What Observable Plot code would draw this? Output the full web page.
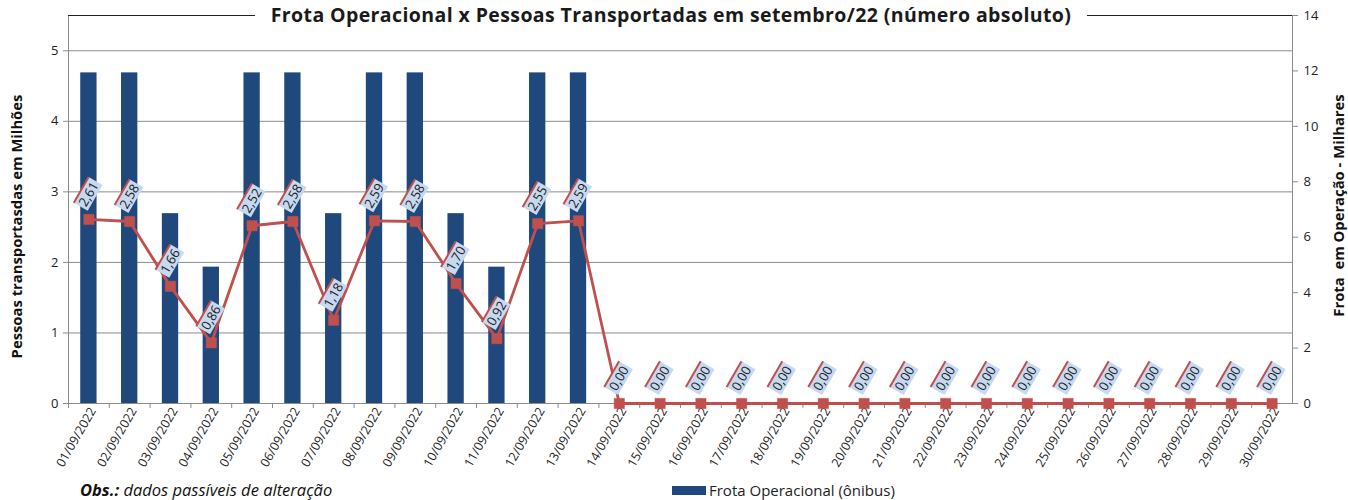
<!DOCTYPE html>
<html><head><meta charset="utf-8">
<script src="https://cdn.jsdelivr.net/npm/d3@7"></script>
<script src="https://cdn.jsdelivr.net/npm/@observablehq/plot@0.6"></script>
<style>
body{margin:0;background:#fff;font-family:"Open Sans", Lato, sans-serif;}
#wrap{position:relative;width:1348px;height:500px;overflow:hidden;background:#fff;}
#title{position:absolute;top:3px;left:0;width:1342px;text-align:center;line-height:24px;}
#title span{background:#fff;padding:0 16px;font-weight:bold;font-size:19.5px;letter-spacing:0.4px;color:#1a1a1a;}
#obs{position:absolute;left:80px;top:480px;font-size:16.5px;line-height:19px;font-style:italic;color:#111;}
#legend{position:absolute;left:672px;top:481px;font-size:15px;line-height:18px;color:#222;display:flex;align-items:center;}
#legend i{display:inline-block;width:34px;height:9px;background:#1f497d;margin-right:3px;}
</style></head><body>
<div id="wrap">
<div id="chart"></div>
<div id="title"><span>Frota Operacional x Pessoas Transportadas em setembro/22 (número absoluto)</span></div>
<div id="obs"><b>Obs.:</b> dados passíveis de alteração</div>
<div id="legend"><i></i>Frota Operacional (ônibus)</div>
</div>
<script>
const dates = ["01/09/2022","02/09/2022","03/09/2022","04/09/2022","05/09/2022","06/09/2022","07/09/2022","08/09/2022","09/09/2022","10/09/2022","11/09/2022","12/09/2022","13/09/2022","14/09/2022","15/09/2022","16/09/2022","17/09/2022","18/09/2022","19/09/2022","20/09/2022","21/09/2022","22/09/2022","23/09/2022","24/09/2022","25/09/2022","26/09/2022","27/09/2022","28/09/2022","29/09/2022","30/09/2022"];
// Pessoas transportadas (milhões) - left axis
const pessoas = [2.61,2.58,1.66,0.86,2.52,2.58,1.18,2.59,2.58,1.70,0.92,2.55,2.59,0,0,0,0,0,0,0,0,0,0,0,0,0,0,0,0,0];
// Frota operacional (milhares de ônibus) - right axis
const frota = [11.93,11.93,6.85,4.92,11.93,11.93,6.85,11.93,11.93,6.85,4.92,11.93,11.93,0,0,0,0,0,0,0,0,0,0,0,0,0,0,0,0,0];
const leftTicks = [0,1,2,3,4,5];
const gridTicks = [1,2,3,4,5];
const rightTicks = [0,2,4,6,8,10,12,14];
const leftMax = 5.5, rightMax = 14;
const ratio = leftMax / rightMax;

const rows = dates.map((d,i) => ({date:d, pessoas:pessoas[i], frota:frota[i]}));
const W = 1348, H = 480, mL = 68, mR = 56, mT = 15, mB = 77;
const step = (W - mL - mR) / dates.length;
const fmt = v => v.toFixed(2).replace(".", ",");
const FONT = "'Open Sans', Lato, sans-serif";

const chart = Plot.plot({
  width: W, height: H,
  marginLeft: mL, marginRight: mR, marginTop: mT, marginBottom: mB,
  style: {fontFamily: FONT, fontSize: "13px", color: "#222", overflow: "hidden", background: "#fff"},
  x: {type: "band", domain: dates, padding: 0, round: false, axis: null},
  y: {domain: [0, leftMax], axis: null},
  marks: [
    Plot.ruleY(gridTicks, {stroke: "#8c8c8c", strokeWidth: 1}),
    Plot.barY(rows, {x: "date", y: d => d.frota * ratio, fill: "#1f497d", insetLeft: step * 0.3, insetRight: step * 0.3}),
    Plot.frame({stroke: "#8c8c8c"}),
    Plot.ruleY([leftMax], {stroke: "#222", strokeWidth: 1}),
    Plot.ruleX(dates, {x: d => d, dx: -step/2, y1: 0, y2: -5 * leftMax / (H - mT - mB), stroke: "#8c8c8c"}),
    Plot.axisY(leftTicks, {anchor: "left", tickSize: 5, tickPadding: 5, stroke: "#8c8c8c", fill: "#222", fontSize: 13, label: null, tickFormat: d => String(d)}),
    Plot.axisY(rightTicks.map(t => t * ratio), {anchor: "right", tickSize: 5, tickPadding: 6, stroke: "#8c8c8c", fill: "#222", fontSize: 13, label: null, tickFormat: d => String(Math.round(d / ratio))}),
    Plot.axisX(dates, {anchor: "bottom", tickSize: 0, tickPadding: 5, dx: 4, tickRotate: -60, fontSize: 12.5, fill: "#222", label: null}),
    Plot.line(rows, {x: "date", y: "pessoas", stroke: "#c0504d", strokeWidth: 2.8}),
    Plot.dot(rows, {x: "date", y: "pessoas", symbol: "square", r: 5.8, fill: "#c0504d", stroke: "#c0504d", strokeWidth: 0.5}),
    Plot.text(rows, {x: "date", y: "pessoas", text: d => fmt(d.pessoas), rotate: -60, dy: -25, fontSize: 13, fill: "#1a1a1a"}),
    Plot.text(["Pessoas transportasdas em Milhões"], {frameAnchor: "left", textAnchor: "middle", dx: -51, dy: 17, rotate: -90, fontWeight: "bold", fontSize: 14.8, fill: "#111"}),
    Plot.text(["Frota  em Operação - Milhares"], {frameAnchor: "right", textAnchor: "middle", dx: 47, dy: -4, rotate: -90, fontWeight: "bold", fontSize: 14.8, fill: "#111"})
  ]
});
document.getElementById("chart").appendChild(chart);

// draw label boxes behind the data labels
const ns = "http://www.w3.org/2000/svg";
const labelSet = new Set(pessoas.map(fmt));
chart.querySelectorAll("text").forEach(t => {
  if (!labelSet.has(t.textContent) || !t.closest("g")) return;
  const b = t.getBBox();
  const tr = t.getAttribute("transform") || "";
  const r = document.createElementNS(ns, "rect");
  r.setAttribute("x", b.x - 2); r.setAttribute("y", b.y + 1);
  r.setAttribute("width", b.width + 4); r.setAttribute("height", b.height - 2);
  r.setAttribute("fill", "#c6d9f0"); r.setAttribute("transform", tr);
  const l = document.createElementNS(ns, "line");
  l.setAttribute("x1", b.x - 2); l.setAttribute("x2", b.x + b.width + 2);
  l.setAttribute("y1", b.y + 1); l.setAttribute("y2", b.y + 1);
  l.setAttribute("stroke", "#c0504d"); l.setAttribute("stroke-width", 2);
  l.setAttribute("transform", tr);
  t.parentNode.insertBefore(r, t);
  t.parentNode.insertBefore(l, t);
});
</script>
</body></html>
